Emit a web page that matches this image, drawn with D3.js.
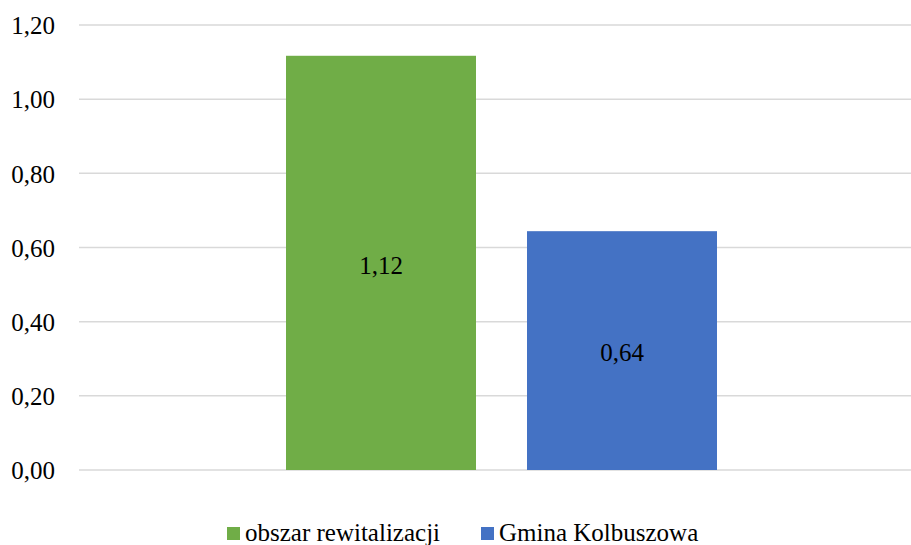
<!DOCTYPE html>
<html>
<head>
<meta charset="utf-8">
<script src="https://cdn.jsdelivr.net/npm/d3@7"></script>
<style>
  body { margin: 0; background: #fff; }
  svg { display: block; }
  svg text { font-family: "Liberation Serif", "DejaVu Serif", serif; }
</style>
</head>
<body>
<div id="chart"></div>
<script>
const series = ["obszar rewitalizacji", "Gmina Kolbuszowa"];
const values = [1.117, 0.644];
const colors = ["#70ad47", "#4472c4"];
const yTicks = [0, 0.2, 0.4, 0.6, 0.8, 1.0, 1.2];

const width = 911, height = 545;
const fmt = v => d3.format(".2f")(v).replace(".", ",");

const svg = d3.select("#chart")
    .append("svg")
    .attr("width", width)
    .attr("height", height);

// plot area
const plot = {left: 79, right: 924, top: 25, bottom: 470};

const y = d3.scaleLinear()
    .domain([0, 1.2])
    .range([plot.bottom, plot.top]);

// the single category cluster, two series side by side
const x = d3.scaleBand()
    .domain(series)
    .range([286, 717])
    .paddingInner(51 / 241)
    .paddingOuter(0);

// gridlines
svg.append("g")
    .selectAll("line")
    .data(yTicks)
    .enter().append("line")
    .attr("x1", plot.left)
    .attr("x2", width)
    .attr("y1", d => y(d))
    .attr("y2", d => y(d))
    .attr("stroke", "#d9d9d9")
    .attr("stroke-width", 1.5);

// y axis labels
const yAxis = d3.axisLeft(y)
    .tickValues(yTicks)
    .tickFormat(fmt)
    .tickSize(0)
    .tickPadding(0);
const gy = svg.append("g")
    .attr("transform", `translate(55, 0)`)
    .call(yAxis)
    .attr("font-family", null)
    .attr("font-size", null);
gy.select(".domain").remove();
gy.selectAll("text")
    .attr("font-size", 25)
    .attr("fill", "#000")
    .attr("dy", "0.35em");

// bars
svg.append("g")
    .selectAll("rect")
    .data(values)
    .enter().append("rect")
    .attr("x", (d, i) => x(series[i]))
    .attr("y", d => y(d))
    .attr("width", x.bandwidth())
    .attr("height", d => y(0) - y(d))
    .attr("fill", (d, i) => colors[i]);

// value labels
svg.append("g")
    .selectAll("text")
    .data(values)
    .enter().append("text")
    .attr("x", (d, i) => x(series[i]) + x.bandwidth() / 2)
    .attr("y", d => (y(d) + y(0)) / 2 + 2)
    .attr("dy", "0.35em")
    .attr("text-anchor", "middle")
    .attr("font-size", 25)
    .attr("fill", "#000")
    .text(fmt);

// legend
const legendX = [227, 481];
const legend = svg.append("g")
    .selectAll("g")
    .data(series)
    .enter().append("g")
    .attr("transform", (d, i) => `translate(${legendX[i]}, 527)`);
legend.append("rect")
    .attr("width", 13)
    .attr("height", 13)
    .attr("fill", (d, i) => colors[i]);
legend.append("text")
    .attr("x", 18)
    .attr("y", 14)
    .attr("font-size", 25)
    .attr("fill", "#000")
    .text(d => d);
</script>
</body>
</html>
